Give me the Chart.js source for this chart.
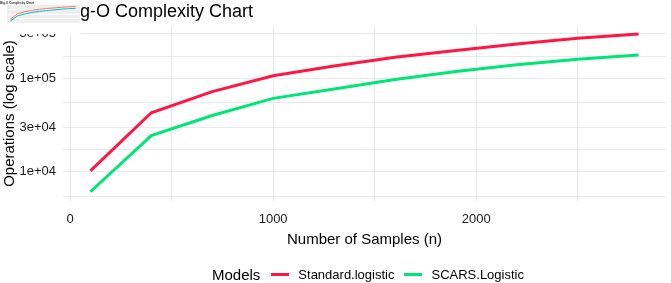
<!DOCTYPE html>
<html lang="en">
<head>
    <meta charset="UTF-8">
    <title>Big-O Complexity Chart</title>
    <style>
        body {
            margin: 0;
            background: #ffffff;
            font-family: "Liberation Sans", Arial, sans-serif;
        }

        .wrap {
            position: relative;
            width: 671px;
            height: 283px;
            overflow: hidden;
        }

        .title {
            position: absolute;
            left: 64px;
            top: 2px;
            font-size: 18px;
            line-height: 18px;
            color: #000;
            white-space: nowrap;
        }

        .thumb {
            position: absolute;
            left: 0;
            top: 0;
            background: #fff;
        }

        .legend {
            position: absolute;
            left: 212px;
            top: 265px;
            height: 18px;
            display: flex;
            align-items: center;
            white-space: nowrap;
            color: #000;
        }

        .legend .head {
            font-size: 15px;
            margin-right: 11px;
        }

        .legend .swatch {
            width: 18px;
            height: 3px;
            margin-right: 9px;
        }

        .legend .item {
            font-size: 13px;
            margin-right: 10px;
        }
    </style>
    <script src="https://cdn.jsdelivr.net/npm/chart.js"></script>
</head>
<body>
    <div class="wrap">
        <canvas id="mainChart" width="671" height="283"></canvas>
        <div class="title">Big-O Complexity Chart</div>
        <canvas id="thumbChart" class="thumb" width="81" height="34"></canvas>
        <div class="legend" id="legend"></div>
    </div>
    <script>
        // values
        const samples = [100, 400, 700, 1000, 1300, 1600, 1900, 2200, 2500, 2800];
        const standardOps = [10200, 42800, 72000, 106600, 135500, 168000, 198000, 233000, 268000, 298000];
        const scarsOps = [6100, 24300, 40000, 61000, 77000, 97000, 118000, 140000, 160000, 178000];

        const seriesNames = ['Standard.logistic', 'SCARS.Logistic'];
        const seriesColors = ['#FF1744', '#00E676'];
        const thumbColors = ['#F8766D', '#00BFC4'];

        const xTicks = [0, 500, 1000, 1500, 2000, 2500];
        const xTickLabels = ['0', '', '1000', '', '2000', ''];
        const yMajorTicks = [10000, 30000, 100000, 300000];
        const yMajorLabels = ['1e+04', '3e+04', '1e+05', '3e+05'];
        const yMinorTicks = [5477, 17321, 54772, 173205];

        const gridColor = '#E6EAEC';
        const font = '"Liberation Sans", Arial, sans-serif';

        const toPoints = values => values.map((v, i) => ({ x: samples[i], y: v }));

        new Chart(document.getElementById('mainChart'), {
            type: 'line',
            data: {
                datasets: [
                    { label: seriesNames[0], data: toPoints(standardOps), borderColor: seriesColors[0], borderWidth: 3, pointRadius: 0, tension: 0 },
                    { label: seriesNames[1], data: toPoints(scarsOps), borderColor: seriesColors[1], borderWidth: 3, pointRadius: 0, tension: 0 }
                ]
            },
            options: {
                responsive: false,
                animation: false,
                devicePixelRatio: 1,
                layout: { padding: { top: 26, right: 5, bottom: 32, left: 0 } },
                plugins: { legend: { display: false }, tooltip: { enabled: false } },
                scales: {
                    x: {
                        type: 'linear',
                        min: -35,
                        max: 2935,
                        bounds: 'data',
                        afterFit: scale => { scale.height = 50; },
                        afterBuildTicks: scale => { scale.ticks = xTicks.map(v => ({ value: v })); },
                        grid: { color: gridColor, drawTicks: false },
                        border: { display: false },
                        ticks: {
                            autoSkip: false,
                            maxRotation: 0,
                            padding: 11,
                            color: '#1a1a1a',
                            font: { family: font, size: 13 },
                            callback: v => xTickLabels[xTicks.indexOf(v)] ?? ''
                        },
                        title: {
                            display: true,
                            text: 'Number of Samples (n)',
                            color: '#000',
                            font: { family: font, size: 15 },
                            padding: { top: 0, bottom: 2 }
                        }
                    },
                    y: {
                        type: 'logarithmic',
                        min: 4857,
                        max: 363000,
                        bounds: 'data',
                        afterFit: scale => { scale.width = 63; },
                        afterBuildTicks: scale => {
                            scale.ticks = yMajorTicks.concat(yMinorTicks).sort((a, b) => a - b).map(v => ({ value: v }));
                        },
                        grid: { color: gridColor, drawTicks: false },
                        border: { display: false },
                        ticks: {
                            autoSkip: false,
                            padding: 7,
                            color: '#1a1a1a',
                            font: { family: font, size: 13 },
                            callback: v => {
                                const i = yMajorTicks.indexOf(v);
                                return i >= 0 ? yMajorLabels[i] : '';
                            }
                        },
                        title: {
                            display: true,
                            text: 'Operations (log scale)',
                            color: '#000',
                            font: { family: font, size: 15 },
                            padding: { top: 1, bottom: 0 }
                        }
                    }
                }
            }
        });

        // small preview picture pasted in the top-left corner
        new Chart(document.getElementById('thumbChart'), {
            type: 'line',
            data: {
                datasets: [
                    { data: toPoints(standardOps), borderColor: thumbColors[0], borderWidth: 1, pointRadius: 0 },
                    { data: toPoints(scarsOps), borderColor: thumbColors[1], borderWidth: 1, pointRadius: 0 }
                ]
            },
            options: {
                responsive: false,
                animation: false,
                devicePixelRatio: 1,
                layout: { padding: { top: 1, right: 2, bottom: 8, left: 0 } },
                plugins: {
                    legend: { display: false },
                    tooltip: { enabled: false },
                    title: {
                        display: true,
                        text: 'Big-O Complexity Chart',
                        align: 'start',
                        color: '#333',
                        font: { family: font, size: 3 },
                        padding: { top: 0, bottom: 1 }
                    }
                },
                scales: {
                    x: {
                        type: 'linear',
                        min: -35,
                        max: 2935,
                        afterFit: scale => { scale.height = 4; },
                        grid: { color: '#eee', drawTicks: false },
                        border: { display: false },
                        ticks: { display: false }
                    },
                    y: {
                        type: 'logarithmic',
                        min: 4857,
                        max: 363000,
                        afterFit: scale => { scale.width = 7; },
                        grid: { color: '#eee', drawTicks: false },
                        border: { display: false },
                        ticks: { display: false }
                    }
                }
            }
        });

        const legend = document.getElementById('legend');
        legend.innerHTML = '<span class="head">Models</span>' + seriesNames.map((name, i) =>
            `<span class="swatch" style="background:${seriesColors[i]}"></span><span class="item">${name}</span>`
        ).join('');
    </script>
</body>
</html>
